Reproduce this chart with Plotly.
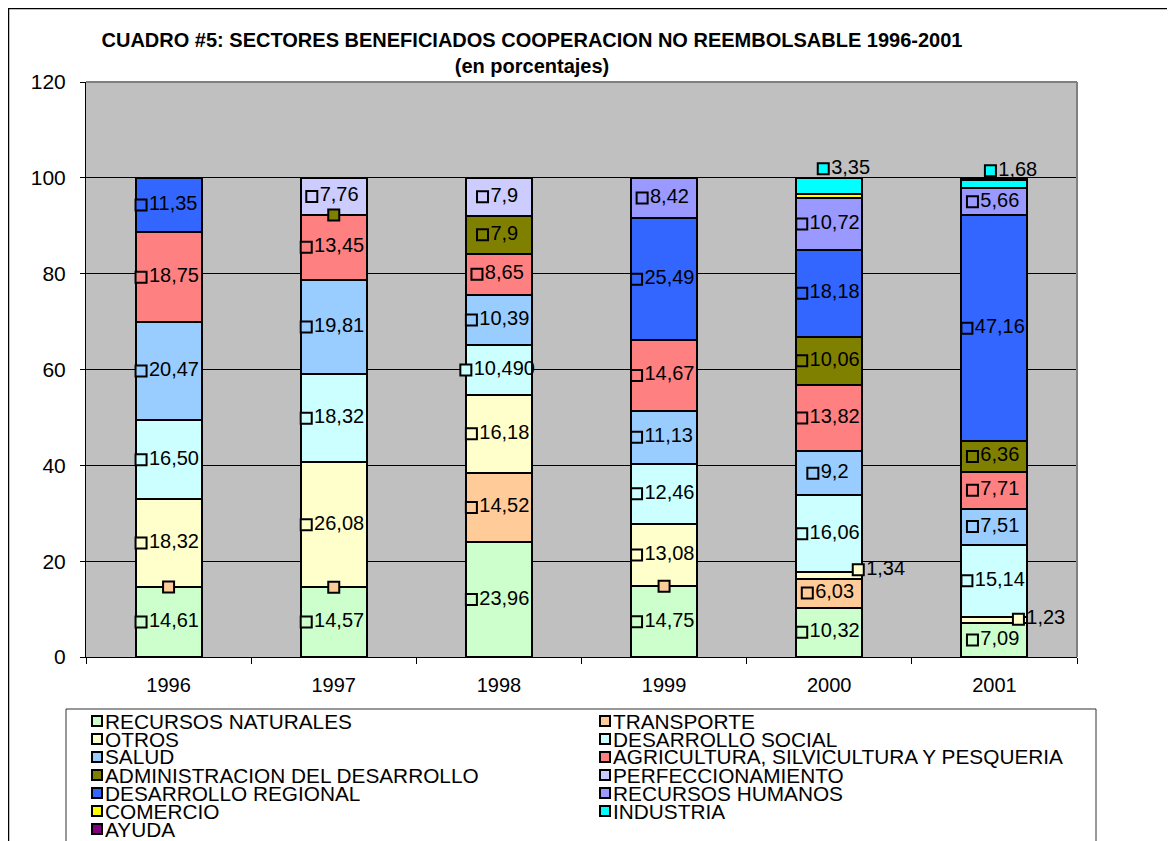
import plotly.graph_objects as go

# ---------------- data ----------------
YEARS = ["1996", "1997", "1998", "1999", "2000", "2001"]

SERIES = [
    "RECURSOS NATURALES", "TRANSPORTE", "OTROS", "DESARROLLO SOCIAL", "SALUD",
    "AGRICULTURA, SILVICULTURA Y PESQUERIA", "ADMINISTRACION DEL DESARROLLO",
    "PERFECCIONAMIENTO", "DESARROLLO REGIONAL", "RECURSOS HUMANOS",
    "COMERCIO", "INDUSTRIA", "AYUDA",
]

COLORS = [
    "#CCFFCC", "#FFCC99", "#FFFFCC", "#CCFFFF", "#99CCFF", "#FF8080", "#808000",
    "#CCCCFF", "#3366FF", "#9999FF", "#FFFF00", "#00FFFF", "#800080",
]

# values as printed on the chart (Spanish decimal comma); None = no value
RECURSOS_NATURALES = ["14,61", "14,57", "23,96", "14,75", "10,32", "7,09"]
TRANSPORTE = ["0", "0", "14,52", "0", "6,03", None]
OTROS = ["18,32", "26,08", "16,18", "13,08", "1,34", "1,23"]
DESARROLLO_SOCIAL = ["16,50", "18,32", "10,490", "12,46", "16,06", "15,14"]
SALUD = ["20,47", "19,81", "10,39", "11,13", "9,2", "7,51"]
AGRICULTURA = ["18,75", "13,45", "8,65", "14,67", "13,82", "7,71"]
ADMINISTRACION = [None, "0", "7,9", None, "10,06", "6,36"]
PERFECCIONAMIENTO = [None, "7,76", "7,9", None, None, None]
DESARROLLO_REGIONAL = ["11,35", None, None, "25,49", "18,18", "47,16"]
RECURSOS_HUMANOS = [None, None, None, "8,42", "10,72", "5,66"]
COMERCIO = [None, None, None, None, "0,92", None]
INDUSTRIA = [None, None, None, None, "3,35", "1,68"]
AYUDA = [None, None, None, None, None, "0,46"]

DATA = [RECURSOS_NATURALES, TRANSPORTE, OTROS, DESARROLLO_SOCIAL, SALUD, AGRICULTURA,
        ADMINISTRACION, PERFECCIONAMIENTO, DESARROLLO_REGIONAL, RECURSOS_HUMANOS,
        COMERCIO, INDUSTRIA, AYUDA]

# series whose data labels are displayed
SHOW_LABEL = [True, True, True, True, True, True, True, True, True, True, False, True, False]

# ---------------- layout constants ----------------
OFF = 8                      # page body margin (figure starts at 8,8 on screen)
W, H = 1175, 841
ML, MR, MT, MB = 78, 106, 74, 192
PW = W - ML - MR
PH = H - MT - MB
PX_PER_UNIT = PW / len(YEARS)
FONT = "Liberation Sans, Arial, sans-serif"
FS = 20
LEG_FS = 20.8

# manually moved labels: (series, year) -> (x shift in px, y value)
LABEL_MOVES = {
    ("OTROS", "2000"): (29, 18.2),
    ("OTROS", "2001"): (24, 7.9),
    ("INDUSTRIA", "2000"): (-6, 101.9),
    ("INDUSTRIA", "2001"): (-4, 101.5),
}


def num(s):
    return None if s is None else float(s.replace(",", "."))


def text_w(s):
    return sum(0.278 if c in ",." else 0.556 for c in s) * FS


def px_x(X):
    """screen x (page pixels) -> paper x"""
    return (X - OFF - ML) / PW


def px_y(Y):
    """screen y (page pixels) -> paper y"""
    return (H - MB - (Y - OFF)) / PH


xs = list(range(len(YEARS)))
fig = go.Figure()

# stacked bars
for name, color, vals in zip(SERIES, COLORS, DATA):
    yv = [num(v) if (v is not None and num(v) > 0) else None for v in vals]
    fig.add_trace(go.Bar(
        x=xs, y=yv, name=name, width=0.4,
        marker=dict(color=color, line=dict(color="black", width=2)),
        showlegend=False, hoverinfo="skip",
    ))

# data labels with legend keys
bases = [0.0] * len(YEARS)
for i, (name, color, vals) in enumerate(zip(SERIES, COLORS, DATA)):
    lx, ly, lt = [], [], []
    for j, v in enumerate(vals):
        if v is None:
            continue
        val = num(v)
        txt = "" if val == 0 else v
        if (name, YEARS[j]) in LABEL_MOVES:
            dx, yy = LABEL_MOVES[(name, YEARS[j])]
        else:
            dx = (-text_w(txt) / 2 - 2.5) if txt else 0
            yy = bases[j] + val / 2
        lx.append(j + dx / PX_PER_UNIT)
        ly.append(yy)
        lt.append(txt)
        bases[j] += val
    if SHOW_LABEL[i] and lx:
        fig.add_trace(go.Scatter(
            x=lx, y=ly, text=lt, mode="markers+text", textposition="middle right",
            marker=dict(symbol="square", size=11, color=color, line=dict(color="black", width=2)),
            textfont=dict(family=FONT, size=FS, color="black"),
            showlegend=False, hoverinfo="skip", cliponaxis=False,
        ))

shapes = []
annotations = []

# outer chart border (figure edge)
shapes.append(dict(type="rect", xref="paper", yref="paper",
                   x0=px_x(OFF + 0.5), x1=px_x(OFF + W + 10), y0=px_y(OFF + H + 10), y1=px_y(OFF + 0.5),
                   line=dict(color="black", width=1.5), layer="below"))
# plot area top/right border (grey)
shapes.append(dict(type="line", xref="paper", yref="paper", x0=0, x1=1, y0=1, y1=1,
                   line=dict(color="#808080", width=2)))
shapes.append(dict(type="line", xref="paper", yref="paper", x0=1, x1=1, y0=0, y1=1,
                   line=dict(color="#808080", width=2)))

# legend box and entries
shapes.append(dict(type="rect", xref="paper", yref="paper",
                   x0=px_x(66), x1=px_x(1096), y0=px_y(870), y1=px_y(709),
                   line=dict(color="#333333", width=1)))
for k, (name, color) in enumerate(zip(SERIES, COLORS)):
    col, row = k % 2, k // 2
    kx = 97 + col * 508
    ky = 721 + row * 18
    shapes.append(dict(type="rect", xref="paper", yref="paper",
                       x0=px_x(kx - 5), x1=px_x(kx + 5), y0=px_y(ky + 5), y1=px_y(ky - 5),
                       fillcolor=color, line=dict(color="black", width=2)))
    annotations.append(dict(xref="paper", yref="paper", x=px_x(kx + 6), y=px_y(ky),
                            xanchor="left", yanchor="middle", text=name, showarrow=False,
                            font=dict(family=FONT, size=LEG_FS, color="black")))

fig.update_layout(
    width=W, height=H,
    margin=dict(l=ML, r=MR, t=MT, b=MB, pad=0),
    paper_bgcolor="white", plot_bgcolor="#C0C0C0",
    barmode="stack",
    font=dict(family=FONT, size=FS, color="black"),
    title=dict(
        text="<b>CUADRO #5: SECTORES BENEFICIADOS COOPERACION NO REEMBOLSABLE 1996-2001</b><br><b>(en porcentajes)</b>",
        x=(532 - OFF) / W, xanchor="center", xref="container",
        y=1 - 39 / H, yanchor="top", yref="container",
        font=dict(family=FONT, size=FS, color="black"),
    ),
    xaxis=dict(
        range=[-0.5, len(YEARS) - 0.5], tickmode="array", tickvals=xs, ticktext=YEARS,
        ticks="", showgrid=False, zeroline=False, showline=True, linecolor="black", linewidth=1,
        tickfont=dict(family=FONT, size=FS, color="black"), ticklabelstandoff=10,
        minor=dict(tickmode="array", tickvals=[x - 0.5 for x in range(len(YEARS) + 1)],
                   ticks="outside", ticklen=6, tickcolor="black", tickwidth=1, showgrid=False),
    ),
    yaxis=dict(
        range=[0, 120], dtick=20, tick0=0, ticks="outside", ticklen=5, tickcolor="black",
        showgrid=True, gridcolor="black", gridwidth=1, zeroline=False,
        showline=True, linecolor="black", linewidth=1,
        tickfont=dict(family=FONT, size=21, color="black"), ticklabelstandoff=10,
    ),
    shapes=shapes,
    annotations=annotations,
)

fig.write_html("out.html")
